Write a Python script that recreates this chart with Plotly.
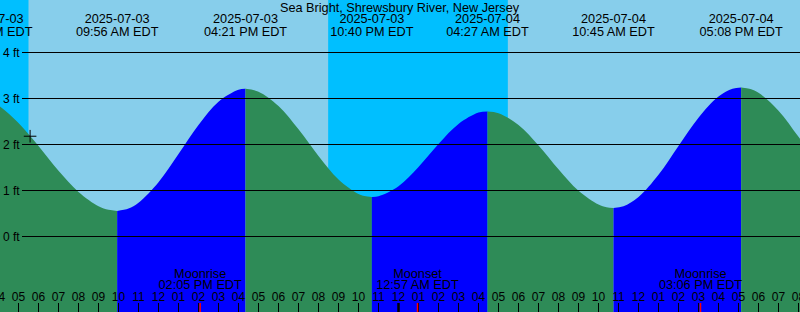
import plotly.graph_objects as go

# Times are hours relative to 2025-07-04 00:00 EDT; heights in ft
station = "Sea Bright, Shrewsbury River, New Jersey"

# tide curve, split at each high/low
fall1_t = [-20.5, -20, -19, -18, -17, -16, -15, -14.5, -14.067]
fall1_h = [2.97, 2.85, 2.47, 1.97, 1.43, 0.97, 0.66, 0.58, 0.557]
rise1_t = [-14.067, -13.5, -13, -12, -11, -10, -9, -8, -7.65]
rise1_h = [0.557, 0.608, 0.734, 1.18, 1.792, 2.425, 2.93, 3.19, 3.21]
fall2_t = [-7.65, -7, -6, -5, -4, -3, -2, -1.7, -1.333]
fall2_h = [3.21, 3.149, 2.836, 2.329, 1.751, 1.241, 0.923, 0.88, 0.86]
rise2_t = [-1.333, -1, 0, 1, 2, 3, 4, 4.45]
rise2_h = [0.86, 0.875, 1.093, 1.512, 2.011, 2.445, 2.693, 2.72]
fall3_t = [4.45, 5, 6, 7, 8, 9, 10, 10.4, 10.75]
fall3_h = [2.72, 2.681, 2.422, 1.98, 1.462, 0.994, 0.693, 0.636, 0.62]
rise3_t = [10.75, 11.25, 12, 13, 14, 15, 16, 16.7, 17.133]
rise3_h = [0.62, 0.659, 0.86, 1.343, 1.968, 2.582, 3.041, 3.21, 3.24]
fall4_t = [17.133, 17.6, 18, 19, 20, 21]
fall4_h = [3.24, 3.206, 3.125, 2.736, 2.167, 1.555]

# high / low labels
ext_t = [-20.367, -14.067, -7.65, -1.333, 4.45, 10.75, 17.133]
ext_date = ["2025-07-03", "2025-07-03", "2025-07-03", "2025-07-03",
            "2025-07-04", "2025-07-04", "2025-07-04"]
ext_time = ["03:38 AM EDT", "09:56 AM EDT", "04:21 PM EDT", "10:40 PM EDT",
            "04:27 AM EDT", "10:45 AM EDT", "05:08 PM EDT"]

# moon events
moon_t = [-9.917, 0.95, 15.1]
moon_kind = ["Moonrise", "Moonset", "Moonrise"]
moon_time = ["02:05 PM EDT", "12:57 AM EDT", "03:06 PM EDT"]

# sun (night = sunset -> sunrise)
sunset_t = [-27.483, -3.517]
sunrise_t = [-18.5, 5.467]

# hour ticks
hour_t = [-20, -19, -18, -17, -16, -15, -14, -13, -12, -11, -10, -9, -8, -7, -6,
          -5, -4, -3, -2, -1, 0, 1, 2, 3, 4, 5, 6, 7, 8, 9, 10, 11, 12, 13, 14,
          15, 16, 17, 18, 19, 20]
hour_labels = ["04", "05", "06", "07", "08", "09", "10", "11", "12", "01", "02",
               "03", "04", "05", "06", "07", "08", "09", "10", "11", "12", "01",
               "02", "03", "04", "05", "06", "07", "08", "09", "10", "11", "12",
               "01", "02", "03", "04", "05", "06", "07", "08"]
midnight_t = [0]

ft_levels = [0, 1, 2, 3, 4]
ft_labels = ["0 ft", "1 ft", "2 ft", "3 ft", "4 ft"]

now_t = [-18.42]
now_h = [2.18]

# ---- styling ----
FONT = "Liberation Sans, Arial, sans-serif"
DAY = "#87CEEB"
NIGHT = "#00BFFF"
FALL = "#2E8B57"
RISE = "#0000FF"
W, H = 800, 312
X_RANGE = [-19.925, 20.075]
Y_RANGE = [-1.6413, 5.1413]
BASE = -2.5

fig = go.Figure()

segments = [(fall1_t, fall1_h, FALL), (rise1_t, rise1_h, RISE),
            (fall2_t, fall2_h, FALL), (rise2_t, rise2_h, RISE),
            (fall3_t, fall3_h, FALL), (rise3_t, rise3_h, RISE),
            (fall4_t, fall4_h, FALL)]
for ts, hs, col in segments:
    fig.add_trace(go.Scatter(x=[ts[0], ts[-1]], y=[BASE, BASE], mode="lines",
                             line=dict(width=0), hoverinfo="skip"))
    fig.add_trace(go.Scatter(x=ts, y=hs, mode="lines", fill="tonexty",
                             fillcolor=col, line=dict(width=0, shape="spline", color=col),
                             hoverinfo="skip"))

# night bands
shapes = []
for s, r in zip(sunset_t, sunrise_t):
    shapes.append(dict(type="rect", xref="x", yref="paper", x0=s, x1=r, y0=0, y1=1,
                       fillcolor=NIGHT, line=dict(width=0), layer="below"))
# ft grid lines
for lv in ft_levels:
    shapes.append(dict(type="line", xref="paper", yref="y", x0=22 / W, x1=1,
                       y0=lv, y1=lv, line=dict(color="black", width=1), layer="above"))
# hour ticks
for t in hour_t:
    shapes.append(dict(type="line", xref="x", yref="paper", x0=t, x1=t, y0=0,
                       y1=9 / H, line=dict(color="black", width=1), layer="above"))
for t in midnight_t:
    shapes.append(dict(type="line", xref="x", yref="paper", x0=t, x1=t, y0=0,
                       y1=9 / H, line=dict(color="black", width=2.5), layer="above"))
for t in moon_t:
    shapes.append(dict(type="line", xref="x", yref="paper", x0=t, x1=t, y0=0,
                       y1=9 / H, line=dict(color="red", width=1.5), layer="above"))

tf = dict(family=FONT, size=12.7, color="black")
hf = dict(family=FONT, size=12, color="black")
# high/low labels
fig.add_trace(go.Scatter(x=ext_t, y=[4.70] * len(ext_t), mode="text", text=ext_date,
                         textposition="middle center", textfont=tf, hoverinfo="skip"))
fig.add_trace(go.Scatter(x=ext_t, y=[4.435] * len(ext_t), mode="text", text=ext_time,
                         textposition="middle center", textfont=tf, hoverinfo="skip"))
# moon labels
fig.add_trace(go.Scatter(x=moon_t, y=[-0.835] * len(moon_t), mode="text", text=moon_kind,
                         textposition="middle center", textfont=tf, hoverinfo="skip"))
fig.add_trace(go.Scatter(x=moon_t, y=[-1.07] * len(moon_t), mode="text", text=moon_time,
                         textposition="middle center", textfont=tf, hoverinfo="skip"))
# hour labels
fig.add_trace(go.Scatter(x=hour_t, y=[-1.33] * len(hour_t), mode="text", text=hour_labels,
                         textposition="middle center", textfont=hf, hoverinfo="skip"))
# current time marker
fig.add_trace(go.Scatter(x=now_t, y=now_h, mode="markers",
                         marker=dict(symbol="cross-thin", size=9,
                                     line=dict(color="black", width=1)),
                         hoverinfo="skip"))

annotations = [dict(text=station, xref="paper", yref="paper", x=0.5, y=1 - 8 / H,
                    xanchor="center", yanchor="middle", showarrow=False, font=tf)]
for lv, lab in zip(ft_levels, ft_labels):
    annotations.append(dict(text=lab, xref="paper", yref="y", x=20.5 / W, y=lv,
                            xanchor="right", yanchor="middle", showarrow=False,
                            font=hf, borderpad=0))

fig.update_layout(width=W, height=H, margin=dict(l=0, r=0, t=0, b=0),
                  plot_bgcolor=DAY, paper_bgcolor=DAY, showlegend=False,
                  xaxis=dict(range=X_RANGE, visible=False, fixedrange=True),
                  yaxis=dict(range=Y_RANGE, visible=False, fixedrange=True),
                  shapes=shapes, annotations=annotations)

fig.write_html("out.html", config={"displayModeBar": False})
